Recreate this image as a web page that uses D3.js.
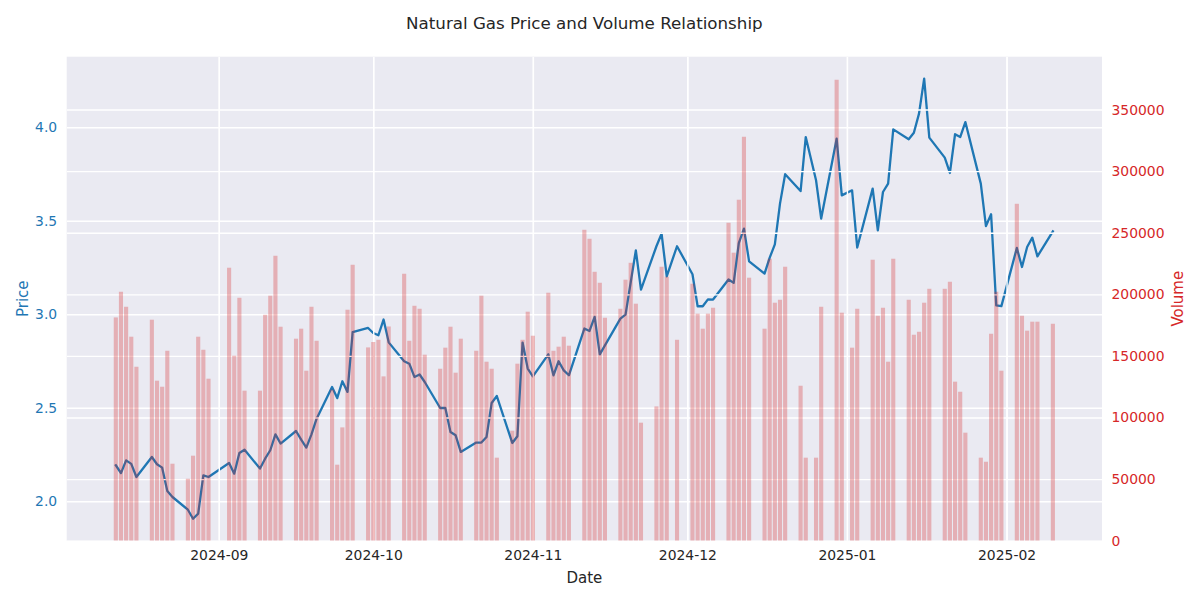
<!DOCTYPE html>
<html><head><meta charset="utf-8">
<script src="https://cdn.jsdelivr.net/npm/d3@7"></script>
<style>
body{margin:0;background:#fff;}
svg text{font-family:"DejaVu Sans",sans-serif;}
</style>
</head><body>
<svg id="chart" width="1200" height="600"></svg>
<script>
// ---------------- data ----------------
const dates = [
 "2024-08-12","2024-08-13","2024-08-14","2024-08-15","2024-08-16","2024-08-19","2024-08-20","2024-08-21","2024-08-22","2024-08-23",
 "2024-08-26","2024-08-27","2024-08-28","2024-08-29","2024-08-30",
 "2024-09-03","2024-09-04","2024-09-05","2024-09-06","2024-09-09","2024-09-10","2024-09-11","2024-09-12","2024-09-13",
 "2024-09-16","2024-09-17","2024-09-18","2024-09-19","2024-09-20","2024-09-23","2024-09-24","2024-09-25","2024-09-26","2024-09-27","2024-09-30",
 "2024-10-01","2024-10-02","2024-10-03","2024-10-04","2024-10-07","2024-10-08","2024-10-09","2024-10-10","2024-10-11",
 "2024-10-14","2024-10-15","2024-10-16","2024-10-17","2024-10-18","2024-10-21","2024-10-22","2024-10-23","2024-10-24","2024-10-25",
 "2024-10-28","2024-10-29","2024-10-30","2024-10-31",
 "2024-11-01","2024-11-04","2024-11-05","2024-11-06","2024-11-07","2024-11-08","2024-11-11","2024-11-12","2024-11-13","2024-11-14","2024-11-15",
 "2024-11-18","2024-11-19","2024-11-20","2024-11-21","2024-11-22","2024-11-25","2024-11-26","2024-11-27","2024-11-29",
 "2024-12-02","2024-12-03","2024-12-04","2024-12-05","2024-12-06","2024-12-09","2024-12-10","2024-12-11","2024-12-12","2024-12-13",
 "2024-12-16","2024-12-17","2024-12-18","2024-12-19","2024-12-20","2024-12-23","2024-12-24","2024-12-26","2024-12-27","2024-12-30","2024-12-31",
 "2025-01-02","2025-01-03","2025-01-06","2025-01-07","2025-01-08","2025-01-09","2025-01-10","2025-01-13","2025-01-14","2025-01-15","2025-01-16","2025-01-17",
 "2025-01-20","2025-01-21","2025-01-22","2025-01-23","2025-01-24","2025-01-27","2025-01-28","2025-01-29","2025-01-30","2025-01-31",
 "2025-02-03","2025-02-04","2025-02-05","2025-02-06","2025-02-07","2025-02-10"
];
const prices = [
 2.193,2.151,2.219,2.200,2.130,2.237,2.198,2.180,2.055,2.023,1.955,1.907,1.934,2.139,2.130,
 2.205,2.148,2.258,2.276,2.175,2.228,2.273,2.358,2.309,2.376,2.330,2.287,2.358,2.442,2.611,2.552,2.642,2.585,2.905,2.927,
 2.900,2.888,2.972,2.850,2.749,2.736,2.665,2.678,2.638,2.499,2.499,2.371,2.353,2.264,2.314,2.314,2.344,2.526,2.563,2.312,2.348,2.849,2.710,
 2.668,2.786,2.674,2.749,2.700,2.674,2.924,2.911,2.986,2.786,2.834,2.977,2.998,3.170,3.342,3.132,3.364,3.431,3.203,3.364,
 3.214,3.043,3.043,3.080,3.079,3.186,3.168,3.381,3.458,3.283,3.218,3.303,3.374,3.592,3.749,3.659,3.948,3.717,3.512,3.939,3.636,
 3.663,3.357,3.672,3.449,3.654,3.699,3.989,3.936,3.971,4.073,4.260,3.945,3.838,3.756,3.963,3.948,4.028,3.699,3.472,3.535,3.048,3.044,
 3.355,3.253,3.360,3.410,3.310,3.444
];
const volumes = [
 181250,202100,189900,165600,141200,179400,129900,125000,154200,62500,50300,69000,165600,155000,131500,
 221600,150200,197200,121800,121800,183400,198900,231300,173700,164000,172100,138000,189900,162300,122600,61700,92000,187500,224000,156900,
 161300,163100,133400,173900,216700,162300,190700,188300,151000,139600,156700,173700,136400,164000,154200,198900,145300,139600,67400,89300,143700,163100,185900,
 166400,201300,154200,157500,165600,158300,252400,245100,218300,209400,181000,188300,211900,225600,192400,95800,109000,222400,214300,163100,
 208600,184300,172100,184300,189100,258100,233800,276800,327900,213500,172100,228900,193200,195600,222400,125800,67400,67400,189900,374200,185100,
 156700,188300,228100,182600,189100,145300,228900,195600,167200,169600,193200,204500,204500,210200,129100,120900,87700,67400,64100,168000,202100,138000,
 273500,182600,170500,177800,177800,176100
];
const priceTicks = [2.0, 2.5, 3.0, 3.5, 4.0];
const volumeTicks = [0, 50000, 100000, 150000, 200000, 250000, 300000, 350000];
const monthTicks = ["2024-09-01","2024-10-01","2024-11-01","2024-12-01","2025-01-01","2025-02-01"];
const title = "Natural Gas Price and Volume Relationship";

// ---------------- layout ----------------
const plot = {left: 66.7, right: 1102, top: 56.7, bottom: 540.7};
const C = {bg:"#eaeaf2", grid:"#ffffff", blue:"#1f77b4", red:"#d62728", text:"#262626"};
const FS = 13.9;
const LFS = 15;

const parse = d3.utcParse("%Y-%m-%d");
const data = dates.map((d, i) => ({date: parse(d), price: prices[i], volume: volumes[i]}));
const DAY = 864e5;
const barW = 0.8 * DAY;
const [dmin, dmax] = d3.extent(data, d => +d.date);
const lo = dmin - barW / 2, hi = dmax + barW / 2, span = hi - lo;
const x = d3.scaleUtc()
  .domain([new Date(lo - 0.05 * span), new Date(hi + 0.05 * span)])
  .range([plot.left, plot.right]);
const [pmin, pmax] = d3.extent(prices);
const pr = pmax - pmin;
const yP = d3.scaleLinear().domain([pmin - 0.05 * pr, pmax + 0.05 * pr]).range([plot.bottom, plot.top]);
const yV = d3.scaleLinear().domain([0, d3.max(volumes) * 1.05]).range([plot.bottom, plot.top]);
const xTicks = monthTicks.map(parse);

const svg = d3.select("#chart");
svg.append("rect").attr("width", 1200).attr("height", 600).attr("fill", "#fff");
svg.append("defs").append("clipPath").attr("id", "clip")
  .append("rect").attr("x", plot.left).attr("y", plot.top)
  .attr("width", plot.right - plot.left).attr("height", plot.bottom - plot.top);

svg.append("rect").attr("x", plot.left).attr("y", plot.top)
  .attr("width", plot.right - plot.left).attr("height", plot.bottom - plot.top)
  .attr("fill", C.bg);

const W = plot.right - plot.left, Hh = plot.bottom - plot.top;
function gridStyle(g) {
  g.select(".domain").remove();
  g.selectAll(".tick text").remove();
  g.selectAll(".tick line").attr("stroke", C.grid).attr("stroke-width", 1.4);
}

// price axis grid (below line)
const gPrice = svg.append("g").attr("clip-path", "url(#clip)");
gPrice.append("g").attr("transform", `translate(${plot.left},0)`)
  .call(d3.axisLeft(yP).tickValues(priceTicks).tickSize(-W)).call(gridStyle);
gPrice.append("g").attr("transform", `translate(0,${plot.bottom})`)
  .call(d3.axisBottom(x).tickValues(xTicks).tickSize(-Hh)).call(gridStyle);

// price line
gPrice.append("path").datum(data)
  .attr("fill", "none").attr("stroke", C.blue).attr("stroke-width", 2.3)
  .attr("stroke-linejoin", "round").attr("stroke-linecap", "square")
  .attr("d", d3.line().x(d => x(d.date)).y(d => yP(d.price)));

// volume axis grid (above line, below bars)
const gVol = svg.append("g").attr("clip-path", "url(#clip)");
gVol.append("g").attr("transform", `translate(${plot.right},0)`)
  .call(d3.axisRight(yV).tickValues(volumeTicks).tickSize(-W)).call(gridStyle);
gVol.append("g").attr("transform", `translate(0,${plot.bottom})`)
  .call(d3.axisBottom(x).tickValues(xTicks).tickSize(-Hh)).call(gridStyle);

// bars
const bw = x(new Date(dmin + barW)) - x(new Date(dmin));
gVol.append("g").selectAll("rect").data(data).join("rect")
  .attr("x", d => x(d.date) - bw / 2)
  .attr("width", bw)
  .attr("y", d => yV(d.volume))
  .attr("height", d => yV(0) - yV(d.volume))
  .attr("fill", C.red).attr("fill-opacity", 0.3);

// ---- axes labels ----
function labelStyle(g, color) {
  g.select(".domain").remove();
  g.selectAll(".tick line").remove();
  g.selectAll(".tick text").attr("fill", color).style("font-size", FS + "px")
    .style("font-family", '"DejaVu Sans", sans-serif');
}
svg.append("g").attr("transform", `translate(${plot.left},0)`)
  .call(d3.axisLeft(yP).tickValues(priceTicks).tickFormat(d3.format(".1f")).tickSize(0).tickPadding(9.5))
  .call(g => labelStyle(g, C.blue));
svg.append("g").attr("transform", `translate(${plot.right},0)`)
  .call(d3.axisRight(yV).tickValues(volumeTicks).tickFormat(d3.format("d")).tickSize(0).tickPadding(9.5))
  .call(g => labelStyle(g, C.red));
svg.append("g").attr("transform", `translate(0,${plot.bottom})`)
  .call(d3.axisBottom(x).tickValues(xTicks).tickFormat(d3.utcFormat("%Y-%m")).tickSize(0).tickPadding(9.5))
  .call(g => labelStyle(g, C.text));

const cx = (plot.left + plot.right) / 2, cy = (plot.top + plot.bottom) / 2;
svg.append("text").attr("x", cx).attr("y", 29).attr("text-anchor", "middle")
  .attr("fill", C.text).style("font-size", "16.7px").text(title);
svg.append("text").attr("x", cx).attr("y", 582.5).attr("text-anchor", "middle")
  .attr("fill", C.text).style("font-size", LFS + "px").text("Date");
svg.append("text").attr("transform", `translate(27.5,${cy}) rotate(-90)`).attr("text-anchor", "middle")
  .attr("fill", C.blue).style("font-size", LFS + "px").text("Price");
svg.append("text").attr("transform", `translate(1182.5,${cy}) rotate(-90)`).attr("text-anchor", "middle")
  .attr("fill", C.red).style("font-size", LFS + "px").text("Volume");
</script>
</body></html>
